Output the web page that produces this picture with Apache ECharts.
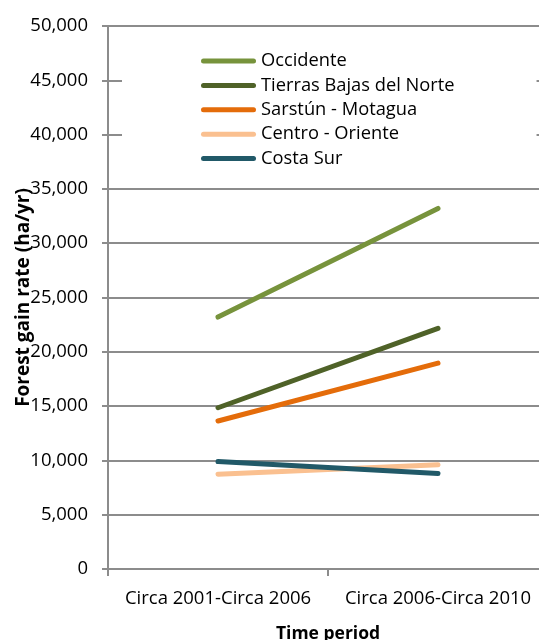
<!DOCTYPE html>
<html>
<head>
<meta charset="utf-8">
<script src="https://cdn.jsdelivr.net/npm/echarts@6/dist/echarts.min.js"></script>
<style>
  html, body { margin: 0; padding: 0; background: #fff; }
  #chart { width: 539px; height: 640px; }
</style>
</head>
<body>
<div id="chart"></div>
<script>
// data
const periods = ['Circa 2001-Circa 2006', 'Circa 2006-Circa 2010'];
const regions = ['Occidente', 'Tierras Bajas del Norte', 'Sarstún - Motagua', 'Centro - Oriente', 'Costa Sur'];
const occidente = [23200, 33200];
const tierrasBajas = [14850, 22150];
const sarstun = [13630, 18960];
const centroOriente = [8730, 9610];
const costaSur = [9890, 8790];
const colors = ['#77933C', '#4F6228', '#E46C0A', '#FAC090', '#215968'];

const values = [occidente, tierrasBajas, sarstun, centroOriente, costaSur];
const font = 'Open Sans';

const chart = echarts.init(document.getElementById('chart'));

chart.setOption({
  animation: false,
  color: colors,
  textStyle: { fontFamily: font },
  grid: { left: 108, top: 26, width: 440, height: 543, outerBoundsMode: 'none' },
  legend: {
    orient: 'vertical',
    left: 122,
    top: 32,
    padding: [20, 82, 18, 79],
    backgroundColor: '#fff',
    itemWidth: 55,
    itemHeight: 5,
    itemGap: 6.4,
    icon: 'path://M2.5,0 L52.5,0 A2.5,2.5 0 0 1 52.5,5 L2.5,5 A2.5,2.5 0 0 1 2.5,0 Z',
    data: regions,
    textStyle: { fontFamily: font, fontSize: 18.3, color: '#000' }
  },
  xAxis: {
    type: 'category',
    data: periods,
    boundaryGap: true,
    name: 'Time period',
    nameLocation: 'middle',
    nameGap: 56,
    nameMoveOverlap: false,
    nameTextStyle: { fontFamily: font, fontSize: 17.5, fontWeight: 'bold', color: '#000' },
    axisLine: { lineStyle: { color: '#8c8c8c', width: 2 } },
    axisTick: { show: true, interval: 0, length: 7, lineStyle: { color: '#8c8c8c', width: 2 } },
    axisLabel: { interval: 0, fontFamily: font, fontSize: 18.5, color: '#000', margin: 20 }
  },
  yAxis: {
    type: 'value',
    min: 0,
    max: 50000,
    interval: 5000,
    name: 'Forest gain rate (ha/yr)',
    nameLocation: 'middle',
    nameGap: 75,
    nameMoveOverlap: false,
    nameTextStyle: { fontFamily: font, fontSize: 19, fontWeight: 'bold', color: '#000' },
    axisLine: { show: true, lineStyle: { color: '#8c8c8c', width: 2 } },
    axisTick: { show: true, length: 6, lineStyle: { color: '#8c8c8c', width: 2 } },
    splitLine: { lineStyle: { color: '#8c8c8c', width: 2 } },
    axisLabel: {
      fontFamily: font, fontSize: 18.5, color: '#000', margin: 20,
      formatter: v => v.toLocaleString('en-US')
    }
  },
  series: regions.map((name, i) => ({
    name: name,
    type: 'line',
    data: values[i],
    symbol: 'none',
    lineStyle: { width: 5, cap: 'round', color: colors[i] },
    itemStyle: { color: colors[i] }
  }))
});
</script>
</body>
</html>
